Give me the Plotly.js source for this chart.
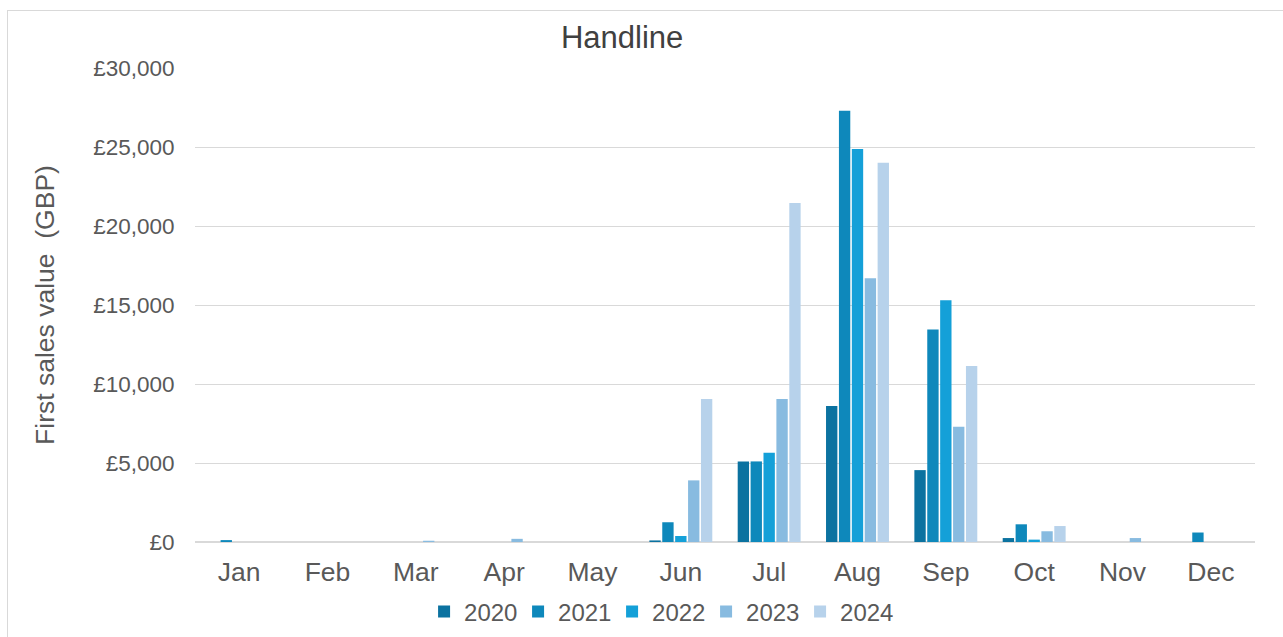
<!DOCTYPE html>
<html>
<head>
<meta charset="utf-8">
<script src="https://cdn.plot.ly/plotly-3.0.1.min.js"></script>
<style>
  html, body { margin: 0; padding: 0; background: #ffffff; }
  #frame { position: absolute; left: 7px; top: 10px; width: 1290px; height: 640px; border: 1px solid #d9d9d9; box-sizing: border-box; }
  #chart { position: absolute; left: 0; top: 0; width: 1283px; height: 637px; }
</style>
</head>
<body>
<div id="frame"></div>
<div id="chart"></div>
<script>
const months = ['Jan','Feb','Mar','Apr','May','Jun','Jul','Aug','Sep','Oct','Nov','Dec'];
const years = ['2020','2021','2022','2023','2024'];
const v2020 = [0, 0, 0, 0, 0, 100, 5100, 8600, 4550, 250, 0, 0];
const v2021 = [120, 0, 0, 0, 0, 1250, 5100, 27300, 13450, 1120, 0, 600];
const v2022 = [0, 0, 0, 0, 0, 380, 5650, 24870, 15300, 150, 0, 0];
const v2023 = [0, 0, 80, 200, 0, 3900, 9050, 16700, 7300, 680, 250, 0];
const v2024 = [0, 0, 0, 0, 0, 9050, 21450, 24000, 11140, 1010, 0, 0];
const seriesValues = [v2020, v2021, v2022, v2023, v2024];
const colors = ['#0b72a0', '#0e88bb', '#14a0d8', '#88bbe0', '#b7d2eb'];

const traces = years.map((y, i) => ({
  type: 'bar',
  name: y,
  x: months,
  y: seriesValues[i],
  marker: { color: colors[i], line: { width: 0 } },
  hoverinfo: 'x+y+name'
}));

const FONT = 'Liberation Sans, Arial, sans-serif';
const layout = {
  width: 1283, height: 637,
  paper_bgcolor: 'rgba(0,0,0,0)',
  plot_bgcolor: 'rgba(0,0,0,0)',
  margin: { l: 195, r: 28, t: 68, b: 95 },
  font: { family: FONT, color: '#595959' },
  title: {
    text: 'Handline',
    font: { size: 31, color: '#404040', family: FONT },
    xref: 'paper', x: 0.403, xanchor: 'center',
    yref: 'container', y: 1 - 37/637, yanchor: 'middle'
  },
  barmode: 'group',
  bargap: 0.27,
  bargroupgap: 0.12,
  xaxis: {
    type: 'category',
    automargin: false,
    showgrid: false,
    showline: false,
    zeroline: false,
    ticks: 'outside', ticklen: 6, tickcolor: 'rgba(0,0,0,0)',
    tickfont: { size: 26.5, color: '#595959' }
  },
  yaxis: {
    automargin: false,
    range: [0, 30000],
    dtick: 5000,
    tickprefix: '£',
    tickformat: ',d',
    showgrid: true,
    gridcolor: '#d9d9d9',
    gridwidth: 1,
    zeroline: true,
    zerolinecolor: '#d9d9d9',
    zerolinewidth: 1.5,
    showline: false,
    ticks: 'outside', ticklen: 15, tickcolor: 'rgba(0,0,0,0)',
    tickfont: { size: 22.5, color: '#595959' },
    title: { text: 'First sales value  (GBP)', font: { size: 26.5, color: '#595959' }, standoff: 30 }
  },
  showlegend: true,
  legend: {
    orientation: 'h',
    xref: 'container', x: 0.5137, xanchor: 'center',
    yref: 'container', y: 1 - 612/637, yanchor: 'middle',
    font: { size: 24, color: '#595959' },
    itemwidth: 30,
    entrywidth: 49,
    entrywidthmode: 'pixels',
    tracegroupgap: 0
  }
};

Plotly.newPlot('chart', traces, layout, { displayModeBar: false, staticPlot: true });
</script>
</body>
</html>
